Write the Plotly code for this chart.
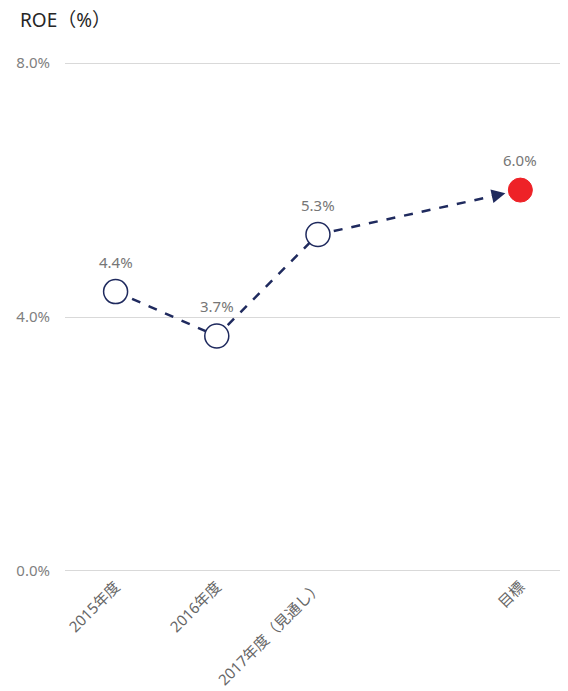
import plotly.graph_objects as go

categories = ["2015年度", "2016年度", "2017年度（見通し）", "目標"]
cat_pos = [0, 1, 2, 4]
roe = [4.4, 3.7, 5.3, 6.0]
labels = ["4.4%", "3.7%", "5.3%", "6.0%"]
y_ticks = [0, 4, 8]
y_ticktext = ["0.0%", "4.0%", "8.0%"]

NAVY = "#1f2a5e"
RED = "#ee2227"
GRAY = "#7f7f7f"

# arrow tip stops short of the target marker
t = 0.926
tip_x = cat_pos[2] + (cat_pos[3] - cat_pos[2]) * t
tip_y = roe[2] + (roe[3] - roe[2]) * t
back_x = cat_pos[2] + (cat_pos[3] - cat_pos[2]) * (t - 0.06)
back_y = roe[2] + (roe[3] - roe[2]) * (t - 0.06)

fig = go.Figure()
fig.add_trace(go.Scatter(
    x=cat_pos[:3] + [back_x], y=roe[:3] + [back_y], mode="lines",
    line=dict(color=NAVY, width=2.5, dash="dash"), hoverinfo="skip", showlegend=False))
fig.add_annotation(x=tip_x, y=tip_y, ax=back_x, ay=back_y, xref="x", yref="y",
                   axref="x", ayref="y", showarrow=True, arrowhead=2, arrowsize=1.1,
                   arrowwidth=2.5, arrowcolor=NAVY, text="")
fig.add_trace(go.Scatter(
    x=cat_pos[:3], y=roe[:3], mode="markers",
    marker=dict(size=24, color="white", line=dict(color=NAVY, width=1.5)),
    showlegend=False))
fig.add_trace(go.Scatter(
    x=[cat_pos[3]], y=[roe[3]], mode="markers",
    marker=dict(size=24, color=RED, line=dict(color=RED, width=1)),
    showlegend=False))
for xp, yv, lb in zip(cat_pos, roe, labels):
    fig.add_annotation(x=xp, y=yv, text=lb, showarrow=False, yshift=30,
                       font=dict(size=15, color="#767676"))

fig.update_layout(
    title=dict(text="ROE（%）", x=12 / 568, xanchor="left", y=1 - 12 / 683, yanchor="middle",
               font=dict(size=19, color="#262626")),
    width=568, height=683,
    margin=dict(l=57, r=0, t=52, b=117, autoexpand=False),
    plot_bgcolor="white", paper_bgcolor="white",
    font=dict(family="Noto Sans, Noto Sans CJK JP, sans-serif", color=GRAY),
    xaxis=dict(range=[-0.5, 4.55], tickvals=cat_pos, ticktext=categories,
               tickangle=-45, showgrid=False, zeroline=False, showline=False,
               tickfont=dict(size=15, color="#666666")),
    yaxis=dict(range=[-0.05, 8.05], tickvals=y_ticks, ticktext=y_ticktext,
               showgrid=True, gridcolor="#d9d9d9", gridwidth=1, zeroline=False,
               ticklabelstandoff=14, tickfont=dict(size=15, color=GRAY)),
)
fig.write_html("out.html")
